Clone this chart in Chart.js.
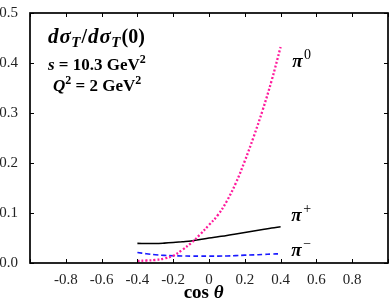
<!DOCTYPE html>
<html>
<head>
<meta charset="utf-8">
<script src="https://cdn.jsdelivr.net/npm/chart.js@4.4.1/dist/chart.umd.min.js"></script>
<style>
  html, body { margin: 0; padding: 0; background: #fff; }
  #wrap { width: 390px; height: 301px; }
</style>
</head>
<body>
<div id="wrap"><canvas id="lineChart" width="390" height="301"></canvas></div>
<script>
// values
var cosTheta = [-0.4, -0.35, -0.3, -0.25, -0.2, -0.15, -0.1, -0.05, 0, 0.05, 0.1, 0.15, 0.2, 0.25, 0.3, 0.35, 0.4];
var piZero  = [0.004, 0.005, 0.006, 0.009, 0.0145, 0.026, 0.040, 0.057, 0.076, 0.096, 0.124, 0.160, 0.204, 0.253, 0.306, 0.365, 0.432];
var piPlus  = [0.0392, 0.0390, 0.0390, 0.0398, 0.041, 0.0425, 0.044, 0.047, 0.050, 0.0525, 0.055, 0.058, 0.061, 0.064, 0.067, 0.070, 0.0725];
var piMinus = [0.021, 0.0185, 0.0165, 0.0152, 0.0145, 0.0141, 0.0138, 0.0137, 0.0137, 0.0138, 0.0141, 0.0148, 0.0157, 0.0163, 0.0170, 0.0178, 0.0185];
var xTicks = [-0.8, -0.6, -0.4, -0.2, 0, 0.2, 0.4, 0.6, 0.8];
var yTicks = [0.0, 0.1, 0.2, 0.3, 0.4, 0.5];

var serif = '"Liberation Serif", "DejaVu Serif", serif';

function pts(ys) {
    return cosTheta.map(function (x, i) { return { x: x, y: ys[i] }; });
}

function richWidth(ctx, parts) {
    var w = 0;
    parts.forEach(function (p) { ctx.font = p.f; w += ctx.measureText(p.t).width + (p.sp || 0); });
    return w;
}

function drawRich(ctx, x, y, parts) {
    parts.forEach(function (p) {
        ctx.font = p.f;
        ctx.fillText(p.t, x, y + (p.dy || 0));
        x += ctx.measureText(p.t).width + (p.sp || 0);
    });
}

var framePlugin = {
    id: 'frame',
    afterDraw: function (chart) {
        var ctx = chart.ctx, a = chart.chartArea;
        var xs = chart.scales.x, ys = chart.scales.y;
        ctx.save();
        ctx.strokeStyle = '#000';
        ctx.lineWidth = 1;
        ctx.beginPath();
        xs.ticks.forEach(function (t) {
            var px = Math.round(xs.getPixelForValue(t.value)) + 0.5;
            ctx.moveTo(px, a.bottom); ctx.lineTo(px, a.bottom - 4);
            ctx.moveTo(px, a.top); ctx.lineTo(px, a.top + 4);
        });
        ys.ticks.forEach(function (t) {
            var py = Math.round(ys.getPixelForValue(t.value)) + 0.5;
            ctx.moveTo(a.left, py); ctx.lineTo(a.left + 4, py);
            ctx.moveTo(a.right, py); ctx.lineTo(a.right - 4, py);
        });
        ctx.stroke();
        ctx.lineWidth = 1.7;
        ctx.strokeRect(a.left, a.top, a.right - a.left, a.bottom - a.top);

        ctx.fillStyle = '#000';
        ctx.textBaseline = 'alphabetic';
        ctx.textAlign = 'left';

        // annotation block
        var bi = 'italic bold 21px ' + serif, b = 'bold 20px ' + serif, sub = 'italic bold 15px ' + serif;
        drawRich(ctx, a.left + 18, a.top + 30, [
            { t: 'd', f: bi, sp: 1 }, { t: 'σ', f: bi, sp: 0.5 }, { t: 'T', f: sub, dy: 4, sp: 1 },
            { t: '/', f: b, sp: 1 }, { t: 'd', f: bi, sp: 1 }, { t: 'σ', f: bi, sp: 0.5 }, { t: 'T', f: sub, dy: 4, sp: 1 },
            { t: '(0)', f: b }
        ]);
        var bi2 = 'italic bold 17px ' + serif, b2 = 'bold 17px ' + serif, sup = 'bold 12px ' + serif;
        drawRich(ctx, a.left + 18, a.top + 57, [
            { t: 's', f: bi2 }, { t: ' = 10.3 GeV', f: b2 }, { t: '2', f: sup, dy: -7 }
        ]);
        drawRich(ctx, a.left + 23, a.top + 78, [
            { t: 'Q', f: bi2 }, { t: '2', f: sup, dy: -7 }, { t: ' = 2 GeV', f: b2 }, { t: '2', f: sup, dy: -7 }
        ]);

        // curve labels
        var pi = 'italic bold 19px ' + serif, sc = '14px ' + serif;
        var lbl = [
            { x: 0.465, y: 0.393, s: '0' },
            { x: 0.460, y: 0.084, s: '+' },
            { x: 0.460, y: 0.014, s: '−' }
        ];
        lbl.forEach(function (l) {
            drawRich(ctx, xs.getPixelForValue(l.x), ys.getPixelForValue(l.y), [
                { t: 'π', f: pi, sp: 1.5 }, { t: l.s, f: sc, dy: -8 }
            ]);
        });

        // axis title
        var tparts = [{ t: 'cos ', f: 'bold 19px ' + serif }, { t: 'θ', f: 'italic bold 19px ' + serif }];
        var tw = richWidth(ctx, tparts);
        drawRich(ctx, xs.getPixelForValue(-0.03) - tw / 2, 298, tparts);
        ctx.restore();
    }
};

var myChart = new Chart(document.getElementById('lineChart').getContext('2d'), {
    type: 'scatter',
    data: {
        datasets: [
            {
                label: 'π0',
                data: pts(piZero),
                showLine: true,
                borderColor: '#ff1a9c',
                borderWidth: 2.3,
                borderDash: [2, 2],
                pointRadius: 0,
                tension: 0.4
            },
            {
                label: 'π+',
                data: pts(piPlus),
                showLine: true,
                borderColor: '#000',
                borderWidth: 1.6,
                pointRadius: 0,
                tension: 0.4
            },
            {
                label: 'π-',
                data: pts(piMinus),
                showLine: true,
                borderColor: '#1a1aff',
                borderWidth: 1.6,
                borderDash: [5, 3],
                pointRadius: 0,
                tension: 0.4
            }
        ]
    },
    options: {
        responsive: false,
        animation: false,
        layout: { padding: { top: 7, right: 2, left: 0, bottom: 0 } },
        plugins: { legend: { display: false }, tooltip: { enabled: false } },
        scales: {
            x: {
                type: 'linear',
                min: -1, max: 1,
                afterFit: function (s) { s.height = 38; },
                afterBuildTicks: function (s) {
                    s.ticks = [-1].concat(xTicks, [1]).map(function (v) { return { value: v }; });
                },
                grid: { display: false },
                border: { display: false },
                ticks: {
                    padding: 0,
                    color: '#222',
                    font: { family: serif, size: 15 },
                    callback: function (v) {
                        var r = Math.round(v * 10) / 10;
                        if (Math.abs(r) === 1) return '';
                        return r === 0 ? '0' : r.toFixed(1);
                    }
                }
            },
            y: {
                type: 'linear',
                min: 0, max: 0.5,
                afterFit: function (s) { s.width = 30; },
                afterBuildTicks: function (s) {
                    s.ticks = yTicks.map(function (v) { return { value: v }; });
                },
                grid: { display: false },
                border: { display: false },
                ticks: {
                    padding: 4,
                    color: '#222',
                    font: { family: serif, size: 15 },
                    callback: function (v) { return (Math.round(v * 10) / 10).toFixed(1); }
                }
            }
        }
    },
    plugins: [framePlugin]
});
</script>
</body>
</html>
